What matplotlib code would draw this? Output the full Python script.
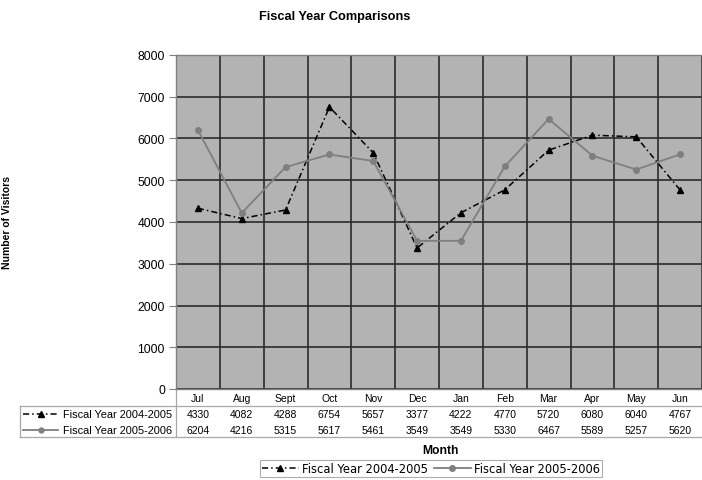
import matplotlib
matplotlib.use('agg')
import matplotlib.pyplot as plt
from matplotlib.lines import Line2D

months = ['Jul', 'Aug', 'Sept', 'Oct', 'Nov', 'Dec', 'Jan', 'Feb', 'Mar', 'Apr', 'May', 'Jun']
fy0405 = [4330, 4082, 4288, 6754, 5657, 3377, 4222, 4770, 5720, 6080, 6040, 4767]
fy0506 = [6204, 4216, 5315, 5617, 5461, 3549, 3549, 5330, 6467, 5589, 5257, 5620]
label0405 = 'Fiscal Year 2004-2005'
label0506 = 'Fiscal Year 2005-2006'

plt.rcParams['font.family'] = ['Liberation Sans', 'DejaVu Sans']
plt.rcParams['font.size'] = 7.5

W, H = 702, 481
fig = plt.figure(figsize=(W / 100, H / 100), dpi=100)
ax = fig.add_axes([176 / W, 1 - 390 / H, 526 / W, 334 / H])

ax.set_facecolor('#b3b3b3')
x = list(range(len(months)))

style1 = dict(color='black', linestyle=(0, (4, 2, 1, 2)), linewidth=1.1,
              marker='^', markersize=5, markerfacecolor='black', markeredgecolor='black')
style2 = dict(color='#7f7f7f', linestyle='-', linewidth=1.3,
              marker='o', markersize=4, markerfacecolor='#7f7f7f', markeredgecolor='#7f7f7f')

ax.plot(x, fy0405, label=label0405, **style1)
ax.plot(x, fy0506, label=label0506, **style2)

ax.set_xlim(-0.5, len(months) - 0.5)
ax.set_ylim(0, 8000)
ax.set_yticks(range(0, 8001, 1000))
ax.set_xticks([i - 0.5 for i in range(len(months) + 1)])
ax.set_xticklabels([])
ax.tick_params(axis='x', length=0)
ax.tick_params(axis='y', length=5, color='#808080', labelsize=8.7, pad=3)
ax.grid(True, color='#2b2b2b', linewidth=1.2)
ax.set_axisbelow(True)
for s in ax.spines.values():
    s.set_color('#808080')
    s.set_linewidth(1.0)

ax.set_ylabel('Number of Visitors', fontsize=7.5, fontweight='bold')
ax.yaxis.set_label_coords(-(176 - 12) / 526, 0.5)

# data table under the plot
trans = ax.get_xaxis_transform()
def ay(py):
    return (390 - py) / 334.0

for i, m in enumerate(months):
    ax.text(i, ay(399), m, ha='center', va='center', fontsize=7.5, transform=trans, clip_on=False)
    ax.text(i, ay(415), str(fy0405[i]), ha='center', va='center', fontsize=7.5, transform=trans, clip_on=False)
    ax.text(i, ay(431), str(fy0506[i]), ha='center', va='center', fontsize=7.5, transform=trans, clip_on=False)

tcol = '#a8a8a8'
axl = -(176 - 20) / 526
for py in (407, 438):
    ax.add_line(Line2D([axl, 1.0], [ay(py), ay(py)], transform=ax.transAxes,
                       color=tcol, linewidth=0.9, clip_on=False))
ax.add_line(Line2D([0, 0], [0, ay(438)], transform=ax.transAxes, color=tcol, linewidth=0.9, clip_on=False))
ax.add_line(Line2D([axl, axl], [ay(407), ay(438)], transform=ax.transAxes, color=tcol, linewidth=0.9, clip_on=False))

def px(p):
    return (p - 176) / 526.0

for py, lab, st in ((415, label0405, style1), (431, label0506, style2)):
    ax.add_line(Line2D([px(23), px(58)], [ay(py), ay(py)], transform=ax.transAxes, clip_on=False,
                       **{k: v for k, v in st.items() if not k.startswith('marker')}))
    ax.add_line(Line2D([px(40.5)], [ay(py)], transform=ax.transAxes, clip_on=False,
                       linestyle='none', marker=st['marker'], markersize=st['markersize'] - 0.5,
                       color=st['color']))
    ax.text(px(172), ay(py), lab, ha='right', va='center', fontsize=7.9, transform=ax.transAxes)

fig.text(440 / W, 1 - 451 / H, 'Month', ha='center', va='center', fontsize=8.7, fontweight='bold')
fig.text(335 / W, 1 - 17 / H, 'Fiscal Year Comparisons', ha='center', va='center',
         fontsize=9.2, fontweight='bold')

leg = fig.legend(loc='center', bbox_to_anchor=(431 / W, 1 - 469.5 / H), ncol=2,
                 prop={'family': 'DejaVu Sans', 'size': 8.3},
                 frameon=True, fancybox=False, edgecolor='#999999', handlelength=3.2,
                 columnspacing=0.5, handletextpad=0.3, borderpad=0.15, borderaxespad=0)
leg.get_frame().set_linewidth(0.8)

fig.savefig('out.png', dpi=100)
